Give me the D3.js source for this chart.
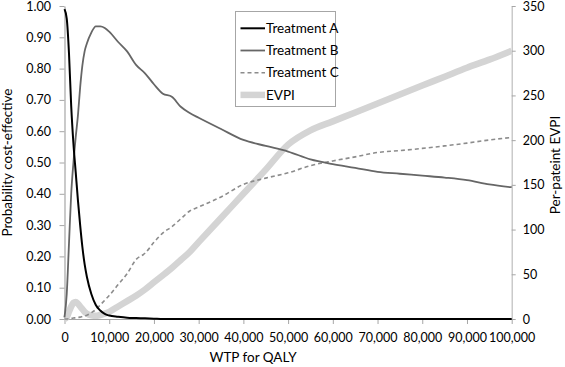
<!DOCTYPE html>
<html><head><meta charset="utf-8">
<script src="https://cdn.jsdelivr.net/npm/d3@7"></script>
<style>
html,body{margin:0;padding:0;background:#fff;}
svg{display:block;}
text{font-family:Lato,"Open Sans",sans-serif;fill:#000;}
</style></head>
<body>
<svg id="chart" width="565" height="367"></svg>
<script>
const wtp = [0,500,1000,1500,2000,2500,3000,3500,4000,4500,5000,6000,7000,8000,9000,10000,12000,14000,16000,18000,20000,22000,24000,26000,28000,30000,35000,40000,45000,50000,55000,60000,65000,70000,75000,80000,85000,90000,95000,100000];
const treatmentA = [0.99,0.96,0.85,0.68,0.56,0.47,0.38,0.30,0.23,0.175,0.135,0.08,0.045,0.027,0.016,0.011,0.007,0.004,0.003,0.002,0.001,0,0,0,0,0,0,0,0,0,0,0,0,0,0,0,0,0,0,0];
const treatmentB = [0.005,0.08,0.24,0.40,0.50,0.58,0.65,0.74,0.81,0.855,0.88,0.915,0.935,0.935,0.93,0.918,0.885,0.855,0.812,0.785,0.75,0.72,0.71,0.678,0.658,0.643,0.607,0.572,0.553,0.535,0.51,0.495,0.483,0.47,0.464,0.458,0.452,0.444,0.43,0.421];
const treatmentC = [0,0,0.001,0.002,0.003,0.004,0.005,0.006,0.008,0.01,0.012,0.02,0.03,0.045,0.06,0.075,0.11,0.145,0.19,0.21,0.245,0.275,0.295,0.32,0.345,0.358,0.39,0.43,0.45,0.467,0.49,0.505,0.518,0.532,0.538,0.545,0.553,0.562,0.572,0.58];
const evpi = [0,2,8,14,18,19,17,14,11,8,6,4,3.5,4.5,6,8,14,20,26,33,41,49,57,66,75,86,113,140,167,195,211,221,231,241,251,261,271,281,290,300];
const xTicks = [0,10000,20000,30000,40000,50000,60000,70000,80000,90000,100000];
const yLeftTicks = [0,0.1,0.2,0.3,0.4,0.5,0.6,0.7,0.8,0.9,1.0];
const yRightTicks = [0,50,100,150,200,250,300,350];
const seriesNames = ["Treatment A","Treatment B","Treatment C","EVPI"];

const svg = d3.select("#chart");
const L = 64.5, R = 511.7, T = 6, B = 319;
const x = d3.scaleLinear().domain([0,100000]).range([L,R]);
const yL = d3.scaleLinear().domain([0,1]).range([B,T]);
const yR = d3.scaleLinear().domain([0,350]).range([B,T]);
const fmtX = d3.format(",");
const fmtL = d3.format(".2f");

// axes
const gx = svg.append("g").attr("transform",`translate(0,${B})`)
  .call(d3.axisBottom(x).tickValues(xTicks).tickFormat(fmtX).tickSize(5).tickPadding(9).tickSizeOuter(0));
const gl = svg.append("g").attr("transform",`translate(${L},0)`)
  .call(d3.axisLeft(yL).tickValues(yLeftTicks).tickFormat(fmtL).tickSize(5).tickPadding(8.5).tickSizeOuter(0));
const gr = svg.append("g").attr("transform",`translate(${R},0)`)
  .call(d3.axisRight(yR).tickValues(yRightTicks).tickSize(4).tickPadding(7).tickSizeOuter(0));
[gx,gl,gr].forEach(g=>{
  g.selectAll("path.domain").attr("stroke","#a6a6a6").attr("stroke-width",1.2);
  g.selectAll(".tick line").attr("stroke","#a6a6a6").attr("stroke-width",1);
  g.selectAll(".tick text").attr("font-size",12.5).attr("font-family","Lato,'Open Sans',sans-serif").attr("fill","#000");
});
gr.select("path.domain").attr("stroke","#bdbdbd");

const idx = d3.range(wtp.length);
function line(vals, scale){
  return d3.line().x(i=>x(wtp[i])).y(i=>scale(vals[i])).curve(d3.curveMonotoneX)(idx);
}
const plot = svg.append("g");
plot.append("path").attr("d",line(evpi,yR)).attr("fill","none").attr("stroke","#d4d4d4").attr("stroke-width",6.5).attr("stroke-linejoin","round");
plot.append("path").attr("d",line(treatmentC,yL)).attr("fill","none").attr("stroke","#8c8c8c").attr("stroke-width",1.6).attr("stroke-dasharray","4,3");
plot.append("path").attr("d",line(treatmentB,yL)).attr("fill","none").attr("stroke","#666").attr("stroke-width",1.8);
plot.append("path").attr("d",line(treatmentA,yL)).attr("fill","none").attr("stroke","#000").attr("stroke-width",2);

// axis titles
svg.append("text").attr("transform","translate(12,162.5) rotate(-90)").attr("text-anchor","middle").attr("font-size",13.5).text("Probability cost-effective");
svg.append("text").attr("transform","translate(560,165) rotate(-90)").attr("text-anchor","middle").attr("font-size",13.5).text("Per-pateint EVPI");
svg.append("text").attr("x",253).attr("y",362).attr("text-anchor","middle").attr("font-size",13.5).text("WTP for QALY");

// legend
const lg = svg.append("g");
lg.append("rect").attr("x",235.5).attr("y",11.5).attr("width",100).attr("height",95).attr("fill","#fff").attr("stroke","#a6a6a6").attr("stroke-width",1);
const styles = [
  {stroke:"#000",w:2,dash:null},
  {stroke:"#666",w:1.8,dash:null},
  {stroke:"#8c8c8c",w:1.6,dash:"4,3"},
  {stroke:"#d4d4d4",w:6.5,dash:null}
];
seriesNames.forEach((n,i)=>{
  const yy = 28.3 + i*22.2;
  lg.append("line").attr("x1",240.5).attr("x2",265).attr("y1",yy).attr("y2",yy)
    .attr("stroke",styles[i].stroke).attr("stroke-width",styles[i].w).attr("stroke-dasharray",styles[i].dash);
  lg.append("text").attr("x",266).attr("y",yy).attr("dy","0.35em").attr("font-size",13.5).text(n);
});
</script>
</body></html>
